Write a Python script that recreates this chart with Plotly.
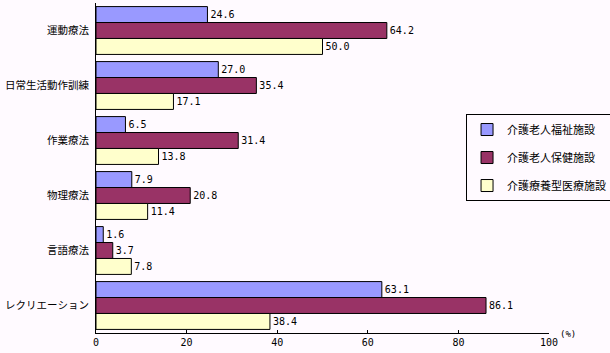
import plotly.graph_objects as go

categories = ["運動療法", "日常生活動作訓練", "作業療法", "物理療法", "言語療法", "レクリエーション"]
series_names = ["介護老人福祉施設", "介護老人保健施設", "介護療養型医療施設"]
welfare = [24.6, 27.0, 6.5, 7.9, 1.6, 63.1]
health = [64.2, 35.4, 31.4, 20.8, 3.7, 86.1]
medical = [50.0, 17.1, 13.8, 11.4, 7.8, 38.4]
x_ticks = [0, 20, 40, 60, 80, 100]

colors = ["#9999FF", "#993366", "#FFFFCC"]
bg = "#FFFAFF"
mono = "DejaVu Sans Mono"
cjk = "Noto Sans CJK JP"

fig = go.Figure()
for i, (name, vals) in enumerate(zip(series_names, [welfare, health, medical])):
    fig.add_trace(go.Bar(
        y=categories, x=vals, name=name, orientation="h",
        marker=dict(color=colors[i], line=dict(color="black", width=1)),
        text=[f"{v:.1f}" for v in vals], textposition="outside",
        textfont=dict(family=mono, size=10, color="black"),
        cliponaxis=False, legendgroup=f"g{i}",
    ))

fig.update_layout(
    width=610, height=353,
    margin=dict(l=96, r=61, t=3, b=20, autoexpand=False),
    paper_bgcolor=bg, plot_bgcolor=bg,
    barmode="group", bargap=0.13, bargroupgap=0,
    showlegend=True,
    legend=dict(
        xref="container", yref="container",
        x=0.764, y=0.677, xanchor="left", yanchor="top",
        bgcolor=bg, bordercolor="black", borderwidth=1,
        font=dict(family=cjk, size=11, color="black"),
        tracegroupgap=9, itemwidth=30,
    ),
    font=dict(family=cjk, color="black"),
    annotations=[dict(
        text="(%)", xref="paper", yref="paper", x=1.042, y=-0.003,
        xanchor="center", yanchor="middle", showarrow=False,
        font=dict(family=mono, size=9, color="black"),
    )],
)
fig.update_xaxes(
    range=[0, 100], tickvals=x_ticks, ticktext=[str(t) for t in x_ticks],
    showgrid=False, zeroline=False, showline=True, linecolor="black", linewidth=1,
    ticks="inside", ticklen=3, tickcolor="black", automargin=False,
    tickfont=dict(family=mono, size=10, color="black"),
)
fig.update_yaxes(
    autorange="reversed", showgrid=False, zeroline=False, automargin=False,
    showline=True, linecolor="black", linewidth=1, ticks="",
    tickfont=dict(family=cjk, size=10.5, color="black"),
    ticklabelstandoff=4,
)

fig.write_html("out.html")
